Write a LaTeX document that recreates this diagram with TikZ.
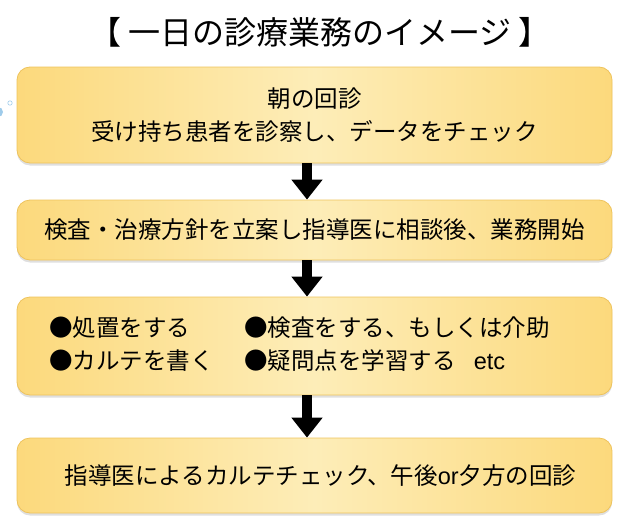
\documentclass[tikz,border=0pt]{standalone}
\usepackage{fontspec}
\setmainfont{Noto Sans CJK JP}
\setsansfont{Liberation Sans}
\usetikzlibrary{arrows.meta}
\usetikzlibrary{shadows}
\definecolor{boxedge}{HTML}{EEC35C}
\definecolor{boxside}{HTML}{FCD97C}
\definecolor{boxmid}{HTML}{FDEDB8}
\definecolor{bubble}{HTML}{9FCBEA}
\tikzset{
  flowbox/.style={draw=boxedge, line width=0.8pt, rounded corners=13pt,
    left color=boxside, right color=boxside, middle color=boxmid,
    minimum width=595pt, inner sep=0pt, font=\fontsize{23.5}{33}\selectfont,
    drop shadow={opacity=0.25, shadow xshift=0pt, shadow yshift=-2.5pt}},
  flowarrow/.style={line width=10pt, -{Triangle[width=30pt,length=20pt]}}
}
\begin{document}
\begin{tikzpicture}[x=1pt, y=-1pt]
\useasboundingbox (0,0) rectangle (628,527);
% title
\node (title) at (320,32) {\fontsize{32}{34}\selectfont 【 一日の診療業務のイメージ 】};
% bubble at the left edge
\fill[bubble] (-2,112) circle (5);
\draw[bubble, line width=0.6pt] (10,103) circle (2.2);
% boxes
\node[flowbox, minimum height=96pt, align=center] (visit) at (314.5,115)
  {朝の回診\\受け持ち患者を診察し、データをチェック};
\node[flowbox, minimum height=60pt] (plan) at (314.5,230)
  {検査・治療方針を立案し指導医に相談後、業務開始};
\node[flowbox, minimum height=98pt] (tasks) at (314.5,346)
  {\begin{tabular}{@{}p{195pt}@{}l@{}}
   ●処置をする & ●検査をする、もしくは介助\\
   ●カルテを書く & ●疑問点を学習する\hspace{18pt}{\sffamily etc}
   \end{tabular}\rule{30pt}{0pt}};
\node[flowbox, minimum height=75pt] (check) at (314.5,475.5)
  {\hspace*{12pt}指導医によるカルテチェック、午後{\sffamily or}夕方の回診};
% arrows
\coordinate (ax) at (307,0);
\draw[flowarrow] (visit.south -| ax) -- (plan.north -| ax);
\draw[flowarrow] (plan.south -| ax) -- (tasks.north -| ax);
\draw[flowarrow] (tasks.south -| ax) -- (check.north -| ax);
\end{tikzpicture}
\end{document}
